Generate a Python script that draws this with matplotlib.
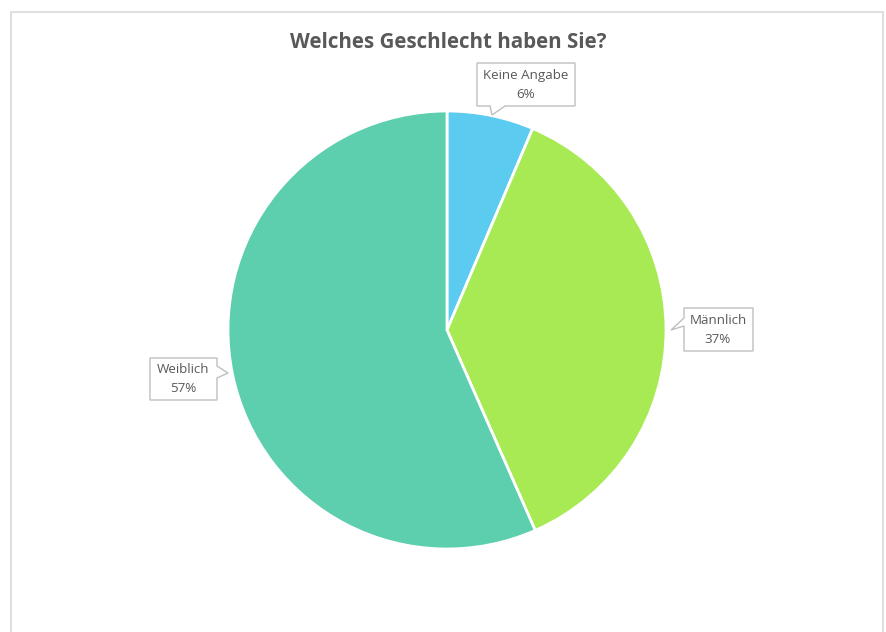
import matplotlib
matplotlib.use("Agg")
import matplotlib.pyplot as plt
from matplotlib.patches import Polygon, Rectangle

categories = ["Keine Angabe", "Männlich", "Weiblich"]
values = [6.4, 37.0, 56.6]
colors = ["#5BCBF0", "#A8EA54", "#5DCFAE"]
title = "Welches Geschlecht haben Sie?"

W, H = 886, 632
fig = plt.figure(figsize=(W / 100, H / 100), dpi=100)
ax = fig.add_axes([0, 0, 1, 1])

def Y(y):
    return H - y

cx, cy, r = 447, 330, 219
ax.pie(values, colors=colors, startangle=90, counterclock=False,
       center=(cx, Y(cy)), radius=r,
       wedgeprops=dict(edgecolor="white", linewidth=2))
ax.set_xlim(0, W)
ax.set_ylim(0, H)
ax.set_aspect("equal")
ax.axis("off")

# outer frame
ax.add_patch(Rectangle((11, Y(700)), 872, 700 - 12, fill=False,
                       edgecolor="#D9D9D9", linewidth=1.2, zorder=0))

fam = ["Open Sans", "DejaVu Sans"]
ax.text(448, Y(43), title, ha="center", va="center", fontsize=14.8,
        fontweight="bold", color="#595959", family=fam)

box_kw = dict(closed=True, facecolor="white", edgecolor="#BFBFBF",
              linewidth=1, zorder=5)

# Keine Angabe callout: pointer from bottom edge
x0, x1, y0, y1 = 477, 575, 63, 106
pts = [(x0, y0), (x1, y0), (x1, y1), (505, y1), (492, 115), (490, y1), (x0, y1)]
ax.add_patch(Polygon([(x, Y(y)) for x, y in pts], **box_kw))
# Männlich callout: pointer from left edge
x0, x1, y0, y1 = 684, 753, 308, 351
pts = [(x0, y0), (x1, y0), (x1, y1), (x0, y1), (x0, 326), (671, 330), (x0, 318)]
ax.add_patch(Polygon([(x, Y(y)) for x, y in pts], **box_kw))
# Weiblich callout: pointer from right edge
x0, x1, y0, y1 = 150, 217, 358, 400
pts = [(x0, y0), (x1, y0), (x1, 366), (228, 373), (x1, 378), (x1, y1), (x0, y1)]
ax.add_patch(Polygon([(x, Y(y)) for x, y in pts], **box_kw))

labels_pos = [(526, 85), (718, 330), (183, 379)]
for cat, v, (lx, ly) in zip(categories, values, labels_pos):
    ax.text(lx, Y(ly), f"{cat}\n{round(v):d}%", ha="center", va="center",
            fontsize=9.6, color="#595959", family=fam, linespacing=1.65,
            zorder=6)

fig.savefig("out.png", dpi=100, facecolor="white")
